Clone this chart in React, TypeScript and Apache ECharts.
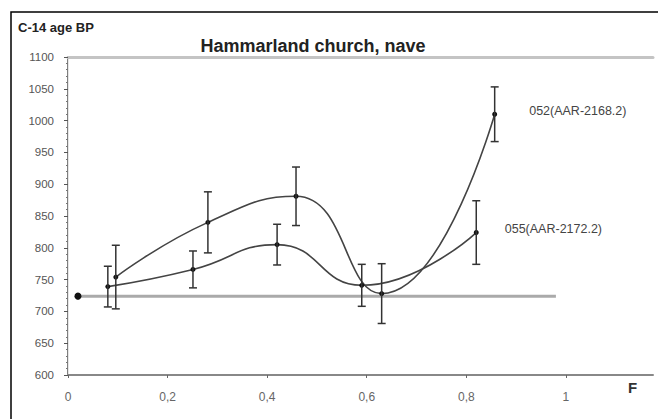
import React, { useEffect, useRef } from "react";
import * as echarts from "echarts";

// Sample 052 (AAR-2168.2)
const xA = [0.096, 0.281, 0.458, 0.63, 0.857];
const yA = [754, 840, 881, 728, 1010];
const errA = [50, 48, 46, 47, 43];
// Sample 055 (AAR-2172.2)
const xB = [0.08, 0.251, 0.42, 0.59, 0.82];
const yB = [739, 766, 805, 741, 824];
const errB = [32, 29, 32, 33, 50];
// reference age line
const refX = [0.02, 0.98];
const refY = 724;

const labelA = "052(AAR-2168.2)";
const labelB = "055(AAR-2172.2)";
const titleText = "Hammarland church, nave";
const yTitle = "C-14 age BP";
const xTitle = "F";

const FONT = "'Liberation Sans', Arial, sans-serif";

export default function App() {
  const ref = useRef<HTMLDivElement>(null);
  useEffect(() => {
    const chart = echarts.init(ref.current!, null, { renderer: "svg" });
    const errData = (xs: number[], ys: number[], es: number[]) =>
      xs.map((x, i) => [x, ys[i] - es[i], ys[i] + es[i]]);
    const renderErr = (params: any, api: any) => {
      const x = api.value(0);
      const lo = api.coord([x, api.value(1)]);
      const hi = api.coord([x, api.value(2)]);
      const w = 4;
      const st = { stroke: "#333", lineWidth: 1.5 };
      return {
        type: "group",
        children: [
          { type: "line", shape: { x1: lo[0], y1: lo[1], x2: hi[0], y2: hi[1] }, style: st },
          { type: "line", shape: { x1: lo[0] - w, y1: lo[1], x2: lo[0] + w, y2: lo[1] }, style: st },
          { type: "line", shape: { x1: hi[0] - w, y1: hi[1], x2: hi[0] + w, y2: hi[1] }, style: st },
        ],
      };
    };
    const lastA = xA.length - 1;
    const lastB = xB.length - 1;
    chart.setOption({
      animation: false,
      backgroundColor: "#fff",
      grid: { left: 68, right: 5, top: 57, bottom: 44 },
      title: {
        text: titleText,
        left: 308,
        textAlign: "center",
        top: 32,
        textStyle: { fontFamily: FONT, fontSize: 18, fontWeight: "bold", color: "#222" },
      },
      xAxis: [
        {
          type: "value",
          min: 0,
          max: 1.175,
          interval: 0.2,
          splitLine: { show: false },
          axisLine: { lineStyle: { color: "#888", width: 2 } },
          axisTick: { show: true, inside: false, length: 3, lineStyle: { color: "#666" } },
          axisLabel: {
            showMaxLabel: false,
            margin: 16,
            fontFamily: FONT,
            fontSize: 12,
            color: "#666",
            formatter: (v: number) => (v > 1.01 ? "" : String(Number(v.toFixed(1))).replace(".", ",")),
          },
        },
        {
          type: "value",
          position: "top",
          min: 0,
          max: 1.175,
          axisLine: { show: true, lineStyle: { color: "#c4c4c4", width: 3 } },
          axisTick: { show: false },
          axisLabel: { show: false },
          splitLine: { show: false },
        },
      ],
      yAxis: [
        {
          type: "value",
          min: 600,
          max: 1100,
          interval: 50,
          splitLine: { show: false },
          axisLine: { show: true, lineStyle: { color: "#555", width: 1.5 } },
          axisTick: { show: true, length: 4, lineStyle: { color: "#555" } },
          minorTick: { show: true, splitNumber: 5, length: 2, lineStyle: { color: "#777" } },
          axisLabel: {
            margin: 14,
            fontFamily: FONT,
            fontSize: 11.5,
            color: "#555",
            formatter: (v: number) => String(v),
          },
        },
        {
          type: "value",
          position: "right",
          min: 600,
          max: 1100,
          axisLine: { show: true, lineStyle: { color: "#e6e6e6", width: 1 } },
          axisTick: { show: false },
          axisLabel: { show: false },
          splitLine: { show: false },
        },
      ],
      series: [
        {
          type: "line",
          data: refX.map((x, i) =>
            i === 0
              ? { value: [x, refY], symbol: "circle", symbolSize: 7 }
              : { value: [x, refY], symbol: "none" }
          ),
          lineStyle: { color: "#aaa", width: 3 },
          itemStyle: { color: "#111" },
          z: 1,
        },
        {
          type: "line",
          smooth: 0.5,
          data: xA.map((x, i) => [x, yA[i]]),
          symbol: "circle",
          symbolSize: 5,
          lineStyle: { color: "#444", width: 1.6 },
          itemStyle: { color: "#111" },
          label: {
            show: true,
            position: "right",
            formatter: (p: any) => (p.dataIndex === lastA ? labelA : ""),
            distance: 32,
            offset: [0, -3],
            fontFamily: FONT,
            fontSize: 12.5,
            color: "#444",
          },
          z: 3,
        },
        {
          type: "line",
          smooth: 0.5,
          data: xB.map((x, i) => [x, yB[i]]),
          symbol: "circle",
          symbolSize: 5,
          lineStyle: { color: "#444", width: 1.6 },
          itemStyle: { color: "#111" },
          label: {
            show: true,
            position: "right",
            formatter: (p: any) => (p.dataIndex === lastB ? labelB : ""),
            distance: 26,
            offset: [0, -4],
            fontFamily: FONT,
            fontSize: 12.5,
            color: "#444",
          },
          z: 3,
        },
        {
          type: "custom",
          renderItem: renderErr,
          encode: { x: 0, y: [1, 2] },
          data: errData(xA, yA, errA),
          z: 4,
        },
        {
          type: "custom",
          renderItem: renderErr,
          encode: { x: 0, y: [1, 2] },
          data: errData(xB, yB, errB),
          z: 4,
        },
      ],
      graphic: [
        {
          type: "rect",
          shape: { x: 11, y: 12, width: 700, height: 500 },
          style: { fill: "none", stroke: "#000", lineWidth: 1.5 },
          silent: true,
        },
        {
          type: "text",
          x: 18,
          y: 21,
          style: { text: yTitle, fontFamily: FONT, fontSize: 13, fontWeight: "bold", fill: "#222" },
        },
        {
          type: "text",
          x: 628,
          y: 380,
          style: { text: xTitle, fontFamily: FONT, fontSize: 15, fontWeight: "bold", fill: "#333" },
        },
      ],
    });
    return () => chart.dispose();
  }, []);
  return (
    <div
      ref={ref}
      style={{ position: "absolute", left: 0, top: 0, width: 658, height: 419, background: "#fff" }}
    />
  );
}
